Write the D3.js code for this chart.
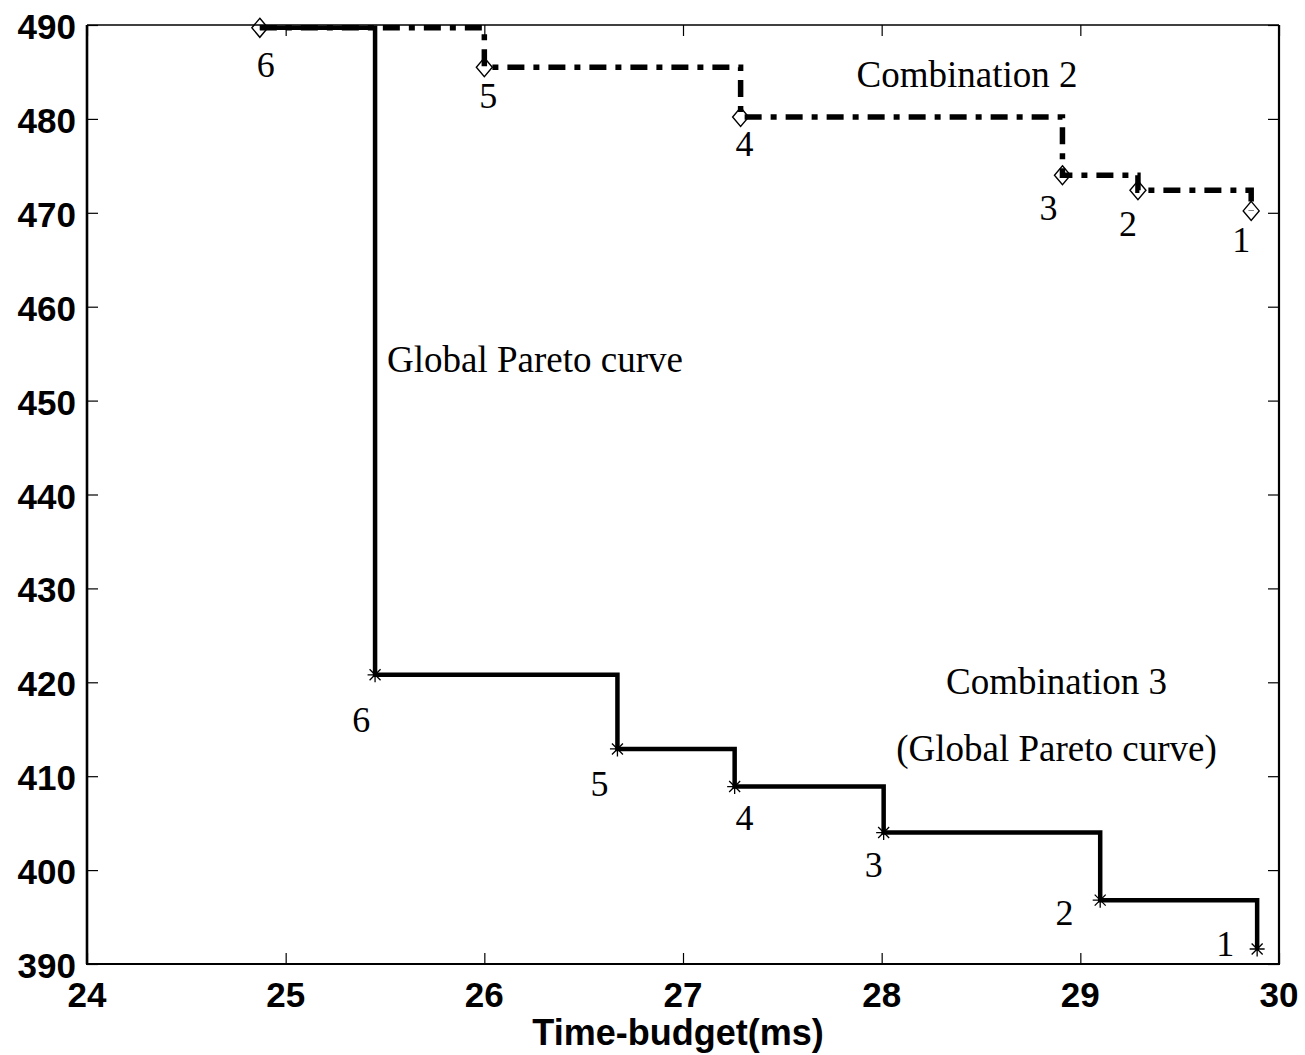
<!DOCTYPE html>
<html>
  <head>
    <title>Pareto curves</title>
    <style>
      body {
        margin: 0;
        background: #fff;
      }
      svg {
        background-color: #fff;
      }
    </style>
  </head>
  <body>
    <svg id="canvas" width="1305" height="1055"></svg>
    <script src="https://d3js.org/d3.v7.min.js"></script>
    <script>
      // Combination 2 (dash-dot, diamonds), points numbered 6..1
      var comb2X = [24.87, 26.0, 27.29, 28.91, 29.29, 29.86];
      var comb2Y = [489.7, 485.5, 480.2, 474.0, 472.4, 470.2];
      var comb2Num = ["6", "5", "4", "3", "2", "1"];
      var comb2LabelX = [24.9, 26.02, 27.31, 28.84, 29.24, 29.81];
      var comb2LabelY = [484.5, 481.2, 476.0, 469.2, 467.5, 465.8];

      // Combination 3 = global Pareto curve (solid, asterisks)
      var comb3X = [25.45, 26.67, 27.26, 28.01, 29.1, 29.89];
      var comb3Y = [420.8, 412.9, 408.9, 404.0, 396.8, 391.6];
      var comb3Num = ["6", "5", "4", "3", "2", "1"];
      var comb3LabelX = [25.38, 26.58, 27.31, 27.96, 28.92, 29.73];
      var comb3LabelY = [414.7, 407.9, 404.3, 399.3, 394.2, 390.9];

      var xTicks = [24, 25, 26, 27, 28, 29, 30];
      var yTicks = [390, 400, 410, 420, 430, 440, 450, 460, 470, 480, 490];

      var notes = ["Combination 2", "Global Pareto curve", "Combination 3", "(Global Pareto curve)"];
      var noteX = [28.43, 25.51, 28.88, 28.88];
      var noteY = [483.4, 453.0, 418.8, 411.6];
      var noteAnchor = ["middle", "start", "middle", "middle"];

      const plotLeft = 87, plotRight = 1279, plotTop = 25, plotBottom = 964;
      const serif = "'Liberation Serif', 'Times New Roman', serif";
      const sans = "'Liberation Sans', Arial, Helvetica, sans-serif";

      const svg = d3.select("#canvas");
      const x = d3.scaleLinear().domain([24, 30]).range([plotLeft, plotRight]);
      const y = d3.scaleLinear().domain([390, 490]).range([plotBottom, plotTop]);

      const comb2 = comb2X.map((v, i) => ({ x: v, y: comb2Y[i] }));
      const comb3 = comb3X.map((v, i) => ({ x: v, y: comb3Y[i] }));
      // global curve starts at the first point of combination 2
      const globalCurve = [comb2[0]].concat(comb3);

      const line = d3
        .line()
        .x(d => x(d.x))
        .y(d => y(d.y))
        .curve(d3.curveStepAfter);

      // Axes: ticks pointing inwards on all four sides
      const tickLen = 11;
      function tickOnly(g) {
        g.select(".domain").remove();
        g.selectAll("line").attr("stroke-width", 1.2);
      }
      svg.append("g")
        .attr("transform", "translate(0," + plotBottom + ")")
        .call(d3.axisBottom(x).tickValues(xTicks).tickSize(-tickLen).tickFormat(""))
        .call(tickOnly);
      svg.append("g")
        .attr("transform", "translate(0," + plotTop + ")")
        .call(d3.axisTop(x).tickValues(xTicks).tickSize(-tickLen).tickFormat(""))
        .call(tickOnly);
      svg.append("g")
        .attr("transform", "translate(" + plotLeft + ",0)")
        .call(d3.axisLeft(y).tickValues(yTicks).tickSize(-tickLen).tickFormat(""))
        .call(tickOnly);
      svg.append("g")
        .attr("transform", "translate(" + plotRight + ",0)")
        .call(d3.axisRight(y).tickValues(yTicks).tickSize(-tickLen).tickFormat(""))
        .call(tickOnly);

      // box
      svg.append("line").attr("x1", plotLeft).attr("x2", plotRight).attr("y1", plotTop).attr("y2", plotTop)
        .attr("stroke", "#000").attr("stroke-width", 1.5);
      svg.append("line").attr("x1", plotLeft - 1).attr("x2", plotRight + 1).attr("y1", plotBottom).attr("y2", plotBottom)
        .attr("stroke", "#000").attr("stroke-width", 2.2);
      svg.append("line").attr("x1", plotLeft).attr("x2", plotLeft).attr("y1", plotTop).attr("y2", plotBottom)
        .attr("stroke", "#000").attr("stroke-width", 2.6);
      svg.append("line").attr("x1", plotRight).attr("x2", plotRight).attr("y1", plotTop).attr("y2", plotBottom)
        .attr("stroke", "#000").attr("stroke-width", 2.2);

      // tick labels
      svg.append("g")
        .selectAll("text")
        .data(xTicks)
        .enter()
        .append("text")
        .attr("x", d => x(d))
        .attr("y", plotBottom + 43)
        .attr("text-anchor", "middle")
        .attr("font-family", sans)
        .attr("font-weight", "bold")
        .attr("font-size", "35px")
        .text(d => d);
      svg.append("g")
        .selectAll("text")
        .data(yTicks)
        .enter()
        .append("text")
        .attr("x", plotLeft - 11)
        .attr("y", d => y(d) + 14)
        .attr("text-anchor", "end")
        .attr("font-family", sans)
        .attr("font-weight", "bold")
        .attr("font-size", "35px")
        .text(d => d);

      svg.append("text")
        .attr("x", 678)
        .attr("y", 1045)
        .attr("text-anchor", "middle")
        .attr("font-family", sans)
        .attr("font-weight", "bold")
        .attr("font-size", "36px")
        .text("Time-budget(ms)");

      // lines
      svg.append("path")
        .attr("d", line(comb2))
        .attr("fill", "none")
        .attr("stroke", "#000")
        .attr("stroke-width", 5.5)
        .attr("stroke-dasharray", "17,9,6,9");
      svg.append("path")
        .attr("d", line(globalCurve))
        .attr("fill", "none")
        .attr("stroke", "#000")
        .attr("stroke-width", 4.5);

      // diamond markers
      svg.append("g")
        .selectAll("path")
        .data(comb2)
        .enter()
        .append("path")
        .attr("d", d => {
          const cx = x(d.x), cy = y(d.y);
          return "M" + cx + "," + (cy - 9.5) + "L" + (cx + 8) + "," + cy +
            "L" + cx + "," + (cy + 9.5) + "L" + (cx - 8) + "," + cy + "Z";
        })
        .attr("fill", "none")
        .attr("stroke", "#000")
        .attr("stroke-width", 1.4);

      // asterisk markers
      svg.append("g")
        .selectAll("path")
        .data(comb3)
        .enter()
        .append("path")
        .attr("d", d => {
          const cx = x(d.x), cy = y(d.y), r = 7.5, q = 5.5;
          return "M" + (cx - r) + "," + cy + "H" + (cx + r) +
            "M" + cx + "," + (cy - r) + "V" + (cy + r) +
            "M" + (cx - q) + "," + (cy - q) + "L" + (cx + q) + "," + (cy + q) +
            "M" + (cx - q) + "," + (cy + q) + "L" + (cx + q) + "," + (cy - q);
        })
        .attr("fill", "none")
        .attr("stroke", "#000")
        .attr("stroke-width", 1.3);

      // point numbers
      function numbers(labels, lx, ly) {
        svg.append("g")
          .selectAll("text")
          .data(labels)
          .enter()
          .append("text")
          .attr("x", (d, i) => x(lx[i]))
          .attr("y", (d, i) => y(ly[i]))
          .attr("text-anchor", "middle")
          .attr("font-family", serif)
          .attr("font-size", "36px")
          .text(d => d);
      }
      numbers(comb2Num, comb2LabelX, comb2LabelY);
      numbers(comb3Num, comb3LabelX, comb3LabelY);

      // annotations
      svg.append("g")
        .selectAll("text")
        .data(notes)
        .enter()
        .append("text")
        .attr("x", (d, i) => x(noteX[i]))
        .attr("y", (d, i) => y(noteY[i]))
        .attr("text-anchor", (d, i) => noteAnchor[i])
        .attr("font-family", serif)
        .attr("font-size", "37px")
        .text(d => d);
    </script>
  </body>
</html>
